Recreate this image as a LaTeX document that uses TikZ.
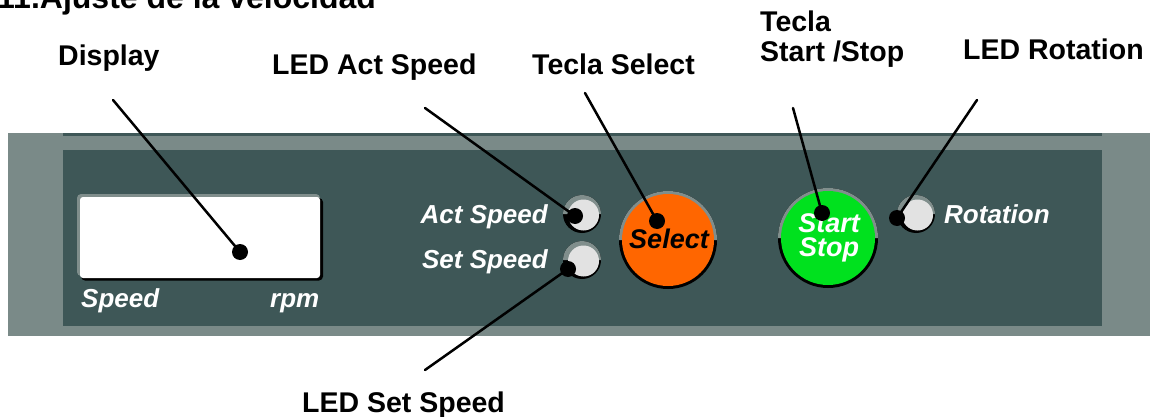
\documentclass[tikz,border=0pt]{standalone}
\usepackage{fontspec}
\setmainfont{Liberation Sans}
\definecolor{outergrey}{RGB}{122,138,136}
\definecolor{panel}{RGB}{62,87,87}
\definecolor{ringgrey}{RGB}{128,142,140}
\definecolor{ledface}{RGB}{226,226,226}
\definecolor{selorange}{RGB}{255,102,0}
\definecolor{stgreen}{RGB}{0,225,30}
\tikzset{
  lbl/.style={anchor=base west, inner sep=0pt, font=\fontsize{28.5}{30}\selectfont\bfseries},
  ptxt/.style={anchor=base west, inner sep=0pt, text=white, font=\fontsize{26}{28}\selectfont\bfseries\itshape},
  dot/.style={circle, fill=black, inner sep=0pt, minimum size=16pt},
  conn/.style={line width=2.5pt, line cap=round},
  led/.pic={
    \fill[black] (0,0) circle[radius=19];
    \fill[ringgrey] (-19,0) arc[start angle=180,end angle=360,radius=19] -- cycle;
    \fill[ledface] (1.5,1) circle[radius=15.5];
  }
}
\begin{document}
\begin{tikzpicture}[x=1pt,y=-1pt]
\useasboundingbox (0,0) rectangle (1150,417);
% title (cut at top)
\node[anchor=base west, inner sep=0pt, font=\fontsize{32}{34}\selectfont\bfseries] (title) at (-3,9) {11.Ajuste de la velocidad};
% panel
\fill[outergrey] (8,133) rectangle (1150,336);
\fill[panel] (63,133) rectangle (1102,135.5);
\fill[panel] (63,150) rectangle (1102,326);
% display
\fill[ringgrey, rounded corners=4pt] (77,194) rectangle (320,276);
\fill[black, rounded corners=4pt] (81,198) rectangle (323,280.5);
\fill[white, rounded corners=3pt] (80,197) rectangle (320,278);
\node[ptxt] (tSpeed) at (81,307) {Speed};
\node[ptxt] (tRpm) at (270,307) {rpm};
% LEDs
\pic at (582,214) {led};
\pic at (582,260) {led};
\pic at (916,214) {led};
\node[ptxt, anchor=base east] (tAct) at (548,223) {Act Speed};
\node[ptxt, anchor=base east] (tSet) at (548,268) {Set Speed};
\node[ptxt] (tRot) at (944,223) {Rotation};
% Select button
\fill[black] (668,240) circle[radius=49];
\fill[ringgrey] (619,240) arc[start angle=180,end angle=360,radius=49] -- cycle;
\node[circle, fill=selorange, minimum size=92pt, inner sep=0pt] (bSel) at (668,240) {};
\node[anchor=base, inner sep=0pt, font=\fontsize{27}{29}\selectfont\bfseries\itshape] (tSel) at (669,248) {Select};
% Start/Stop button
\fill[black] (828,238) circle[radius=50];
\fill[ringgrey] (778,238) arc[start angle=180,end angle=360,radius=50] -- cycle;
\node[circle, fill=stgreen, minimum size=94pt, inner sep=0pt] (bStart) at (828,238) {};
\node[inner sep=0pt, align=center, text=white, font=\fontsize{27}{23.5}\selectfont\bfseries\itshape] (tStartStop) at (829,238) {Start\\Stop};
% labels
\node[lbl] (lDisp) at (58,66) {Display};
\node[lbl] (lAct) at (272,75) {LED Act Speed};
\node[lbl] (lSel) at (532,75) {Tecla Select};
\node[lbl, align=left, anchor=north west, font=\fontsize{28.5}{30}\selectfont\bfseries] (lStart) at (760,11) {Tecla\\Start /Stop};
\node[lbl] (lRot) at (963,60) {LED Rotation};
\node[lbl] (lSet) at (302,412) {LED Set Speed};
% connector ends
\coordinate (cDisp) at (113,100);
\coordinate (cAct) at (425,108);
\coordinate (cSel) at (585,93);
\coordinate (cStart) at (793,108);
\coordinate (cRot) at (977,100);
\coordinate (cSet) at (425,370);
\node[dot] (dDisp) at (240,252) {};
\node[dot] (dAct) at (575,216) {};
\node[dot] (dSet) at (568,269) {};
\node[dot] (dSel) at (657,221) {};
\node[dot] (dStart) at (822,213) {};
\node[dot] (dRot) at (897,218) {};
\draw[conn] (cDisp) -- (dDisp.center);
\draw[conn] (cAct) -- (dAct.center);
\draw[conn] (cSel) -- (dSel.center);
\draw[conn] (cStart) -- (dStart.center);
\draw[conn] (cRot) -- (dRot.center);
\draw[conn] (cSet) -- (dSet.center);
\end{tikzpicture}
\end{document}
